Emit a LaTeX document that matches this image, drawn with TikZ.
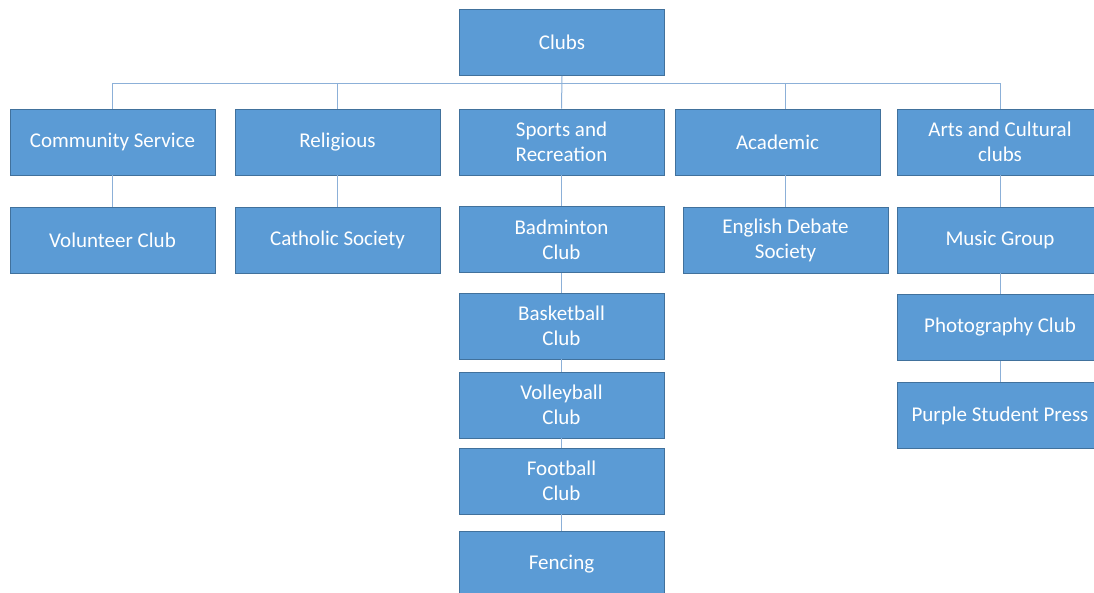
\documentclass[tikz,border=0pt]{standalone}
\usepackage{fontspec}
\setmainfont{Carlito}
\usepackage{tikz}
\usetikzlibrary{positioning}
\definecolor{boxblue}{HTML}{5B9BD5}
\definecolor{boxedge}{HTML}{41719C}
\definecolor{linkblue}{HTML}{8CB0D8}
\tikzstyle{unit}  = [rectangle,
                     draw=boxedge,
                     fill=boxblue,
                     line width=0.7pt,
                     minimum width=205pt,
                     minimum height=66pt,
                     text=white,
                     align=center,
                     inner sep=2pt,
                     font=\fontsize{21}{25}\selectfont]
\tikzstyle{link}  = [draw=linkblue,
                     line width=1pt]

\begin{document}
\begin{tikzpicture}[x=1pt, y=-1pt]

  \useasboundingbox (0,0) rectangle (1094,592);

  % Nodes
  \node[unit] (clubs) at (562,42.5) {Clubs};

  \node[unit] (comm)   at (112.5,142) {Community Service};
  \node[unit] (relig)  at (337.5,142) {Religious};
  \node[unit] (sports) at (561.5,142) {Sports and\\Recreation};
  \node[unit] (acad)   at (777.5,142) {Academic};
  \node[unit] (arts)   at (1000,142)  {Arts and Cultural\\clubs};

  \node[unit] (vol)   at (112.5,240)   {Volunteer Club};
  \node[unit] (cath)  at (337.5,240)   {Catholic Society};
  \node[unit] (badm)  at (561.5,239.5) {Badminton\\Club};
  \node[unit] (deb)   at (785.5,240)   {English Debate\\Society};
  \node[unit] (music) at (1000,240)    {Music Group};

  \node[unit] (bask)   at (561.5,326)   {Basketball\\Club};
  \node[unit] (volley) at (561.5,405)   {Volleyball\\Club};
  \node[unit] (foot)   at (561.5,481)   {Football\\Club};
  \node[unit] (fenc)   at (561.5,564.5) {Fencing};

  \node[unit] (photo)  at (1000,327.5) {Photography Club};
  \node[unit] (press)  at (1000,415.5) {Purple Student Press};

  % Edges
  \coordinate (bar) at (562,83);
  \draw[style=link] (clubs.south) -- (sports.north);
  \foreach \n in {comm,relig,arts}
    \draw[style=link] (bar) -| (\n.north);
  \draw[style=link] (bar) -| (deb.north |- acad.north);
  \draw[style=link] (comm.south)   -- (vol.north);
  \draw[style=link] (relig.south)  -- (cath.north);
  \draw[style=link] (sports.south) -- (badm.north);
  \draw[style=link] (deb.north |- acad.south) -- (deb.north);
  \draw[style=link] (arts.south)   -- (music.north);
  \draw[style=link] (badm.south)   -- (bask.north);
  \draw[style=link] (bask.south)   -- (volley.north);
  \draw[style=link] (volley.south) -- (foot.north);
  \draw[style=link] (foot.south)   -- (fenc.north);
  \draw[style=link] (music.south)  -- (photo.north);
  \draw[style=link] (photo.south)  -- (press.north);

\end{tikzpicture}
\end{document}
